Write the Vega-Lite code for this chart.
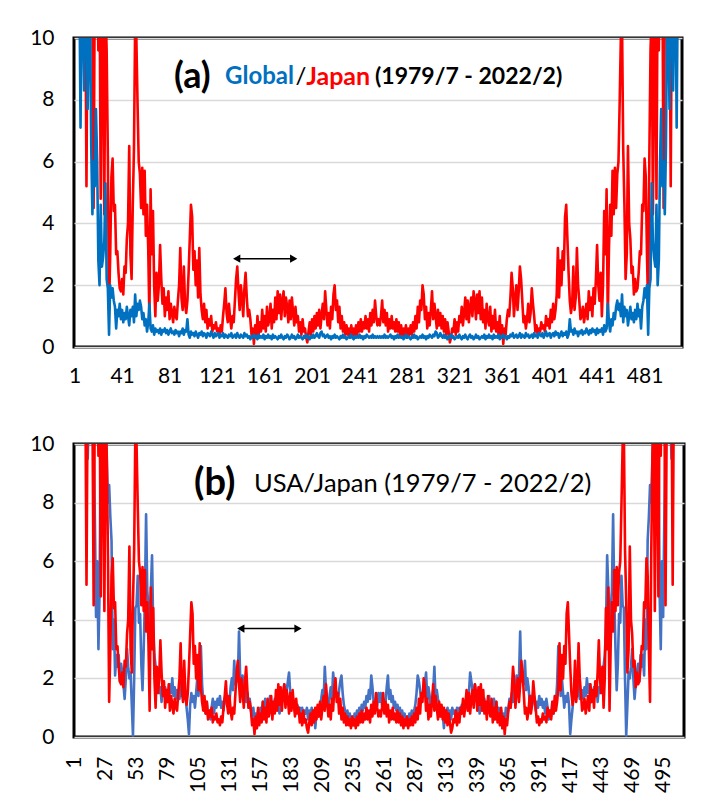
{
"$schema": "https://vega.github.io/schema/vega-lite/v6.json",
"padding": {"left": 28, "top": 25, "right": 5, "bottom": 5},
"background": "white",
"spacing": 97,
"bounds": "flush",
"config": {
  "view": {"stroke": "black", "strokeWidth": 3},
  "font": "Lato",
  "axis": {"labelFont": "Lato", "labelFontSize": 21, "labelColor": "black", "ticks": false, "domain": false, "title": null, "grid": false, "labelPadding": 20, "labelFlush": false},
  "axisX": {"labelOverlap": false},
  "axisY": {"grid": true, "gridColor": "#d9d9d9", "gridWidth": 1.5},
  "line": {"strokeWidth": 2.6, "strokeJoin": "round"}
},
"datasets": {"d": [
{"i":1,"g":20,"j":20,"u":20},{"i":2,"g":18,"j":18,"u":18},{"i":3,"g":16,"j":15,"u":16},{"i":4,"g":14,"j":14,"u":15},{"i":5,"g":12,"j":13,"u":14},
{"i":6,"g":7.1,"j":12,"u":13},{"i":7,"g":12,"j":14,"u":12},{"i":8,"g":11,"j":12,"u":12},{"i":9,"g":8.3,"j":11,"u":11},{"i":10,"g":11,"j":12,"u":11},
{"i":11,"g":12,"j":5.2,"u":10.5},{"i":12,"g":7.7,"j":12,"u":9.5},{"i":13,"g":10.5,"j":11,"u":11},{"i":14,"g":11,"j":12,"u":12},{"i":15,"g":6.5,"j":10.5,"u":10.5},
{"i":16,"g":4.3,"j":11,"u":11},{"i":17,"g":6,"j":4.5,"u":10},{"i":18,"g":5.2,"j":12,"u":7.5},{"i":19,"g":7.7,"j":11,"u":4.1},{"i":20,"g":6,"j":13,"u":6},
{"i":21,"g":2.8,"j":9.6,"u":3},{"i":22,"g":2,"j":12,"u":5},{"i":23,"g":4.6,"j":4.8,"u":11},{"i":24,"g":2.6,"j":12,"u":12},{"i":25,"g":2.9,"j":9.3,"u":10.5},
{"i":26,"g":3.4,"j":4.3,"u":11},{"i":27,"g":5.3,"j":11,"u":12},{"i":28,"g":2.2,"j":9.6,"u":9.5},{"i":29,"g":1.9,"j":6.2,"u":8},{"i":30,"g":0.4,"j":1.2,"u":8.6},
{"i":31,"g":2,"j":3,"u":7.5},{"i":32,"g":1.6,"j":5.5,"u":6.7},{"i":33,"g":1.9,"j":6.1,"u":3},{"i":34,"g":1.5,"j":4.4,"u":4},{"i":35,"g":1.3,"j":4.6,"u":2.1},
{"i":36,"g":0.6,"j":3,"u":2.8},{"i":37,"g":1.2,"j":3.1,"u":2.4},{"i":38,"g":1,"j":2.4,"u":2.8},{"i":39,"g":1.4,"j":1.9,"u":1.9},{"i":40,"g":0.9,"j":1.8,"u":2.5},
{"i":41,"g":1.2,"j":2.2,"u":2.2},{"i":42,"g":0.8,"j":1.7,"u":1.8},{"i":43,"g":1.1,"j":2.6,"u":1.3},{"i":44,"g":0.9,"j":2.4,"u":2},{"i":45,"g":1.3,"j":3.5,"u":3},
{"i":46,"g":1,"j":4,"u":2.4},{"i":47,"g":0.7,"j":6.5,"u":2},{"i":48,"g":1.2,"j":3,"u":2.2},{"i":49,"g":1,"j":2.2,"u":1.1},{"i":50,"g":1.3,"j":4.6,"u":0.05},
{"i":51,"g":0.8,"j":6.4,"u":2},{"i":52,"g":1.7,"j":10.5,"u":4.4},{"i":53,"g":1,"j":10,"u":4.5},{"i":54,"g":1.4,"j":7.9,"u":5.5},{"i":55,"g":1.2,"j":6,"u":3.9},
{"i":56,"g":1.5,"j":5.6,"u":4.2},{"i":57,"g":1.3,"j":4.5,"u":2.5},{"i":58,"g":0.9,"j":5.8,"u":1.6},{"i":59,"g":1.1,"j":4.3,"u":3},{"i":60,"g":0.7,"j":5.7,"u":4.7},
{"i":61,"g":0.9,"j":3.6,"u":7.6},{"i":62,"g":0.5,"j":4.6,"u":5},{"i":63,"g":0.8,"j":3.2,"u":4.4},{"i":64,"g":1.4,"j":0.9,"u":3.4},{"i":65,"g":0.6,"j":5.1,"u":5},
{"i":66,"g":0.5,"j":3,"u":6.2},{"i":67,"g":0.7,"j":4.4,"u":3.7},{"i":68,"g":0.4,"j":2,"u":2.8},{"i":69,"g":0.6,"j":1,"u":2.4},{"i":70,"g":0.5,"j":2.4,"u":1.8},
{"i":71,"g":0.55,"j":1.5,"u":2.1},{"i":72,"g":0.45,"j":2,"u":1.5},{"i":73,"g":0.6,"j":3.3,"u":1.7},{"i":74,"g":0.4,"j":2.2,"u":1.2},{"i":75,"g":0.55,"j":1.4,"u":1.9},
{"i":76,"g":0.5,"j":1.9,"u":1.4},{"i":77,"g":0.6,"j":1,"u":1.7},{"i":78,"g":0.45,"j":1.6,"u":1.5},{"i":79,"g":0.55,"j":1.2,"u":1.2},{"i":80,"g":0.4,"j":1.8,"u":1.3},
{"i":81,"g":0.5,"j":0.9,"u":1.8},{"i":82,"g":0.6,"j":1.4,"u":1.5},{"i":83,"g":0.45,"j":1.1,"u":2},{"i":84,"g":0.5,"j":0.8,"u":1.4},{"i":85,"g":0.4,"j":1.3,"u":1.7},
{"i":86,"g":0.55,"j":1,"u":1.3},{"i":87,"g":0.45,"j":0.9,"u":1.6},{"i":88,"g":0.5,"j":1.5,"u":1.5},{"i":89,"g":0.35,"j":2,"u":1.3},{"i":90,"g":0.5,"j":3.2,"u":1.8},
{"i":91,"g":0.45,"j":1.6,"u":1.4},{"i":92,"g":0.6,"j":1.2,"u":1.6},{"i":93,"g":0.4,"j":2.6,"u":1.3},{"i":94,"g":0.55,"j":1.4,"u":1.5},{"i":95,"g":0.5,"j":1.1,"u":1},
{"i":96,"g":0.9,"j":1.5,"u":0.6},{"i":97,"g":0.4,"j":2.4,"u":0.1},{"i":98,"g":0.3,"j":3.5,"u":1.1},{"i":99,"g":0.5,"j":4.6,"u":1.5},{"i":100,"g":0.4,"j":4.2,"u":1.2},
{"i":101,"g":0.45,"j":2.5,"u":1.4},{"i":102,"g":0.35,"j":3.1,"u":1},{"i":103,"g":0.5,"j":2,"u":1.5},{"i":104,"g":0.4,"j":2.8,"u":2},{"i":105,"g":0.3,"j":1.6,"u":1.4},
{"i":106,"g":0.45,"j":3.2,"u":2.2},{"i":107,"g":0.4,"j":1.7,"u":3.1},{"i":108,"g":0.5,"j":1.2,"u":1.8},{"i":109,"g":0.35,"j":0.9,"u":1.2},{"i":110,"g":0.45,"j":1.4,"u":1},
{"i":111,"g":0.4,"j":0.8,"u":0.8},{"i":112,"g":0.3,"j":1.2,"u":1.2},{"i":113,"g":0.45,"j":0.6,"u":0.7},{"i":114,"g":0.4,"j":0.9,"u":0.9},{"i":115,"g":0.35,"j":0.7,"u":0.6},
{"i":116,"g":0.5,"j":1,"u":1},{"i":117,"g":0.4,"j":0.5,"u":1.3},{"i":118,"g":0.3,"j":0.7,"u":0.8},{"i":119,"g":0.45,"j":0.6,"u":1.2},{"i":120,"g":0.35,"j":0.8,"u":1},
{"i":121,"g":0.4,"j":0.5,"u":1.3},{"i":122,"g":0.45,"j":0.6,"u":1.1},{"i":123,"g":0.3,"j":0.4,"u":1.4},{"i":124,"g":0.4,"j":0.7,"u":1},{"i":125,"g":0.35,"j":0.5,"u":1.2},
{"i":126,"g":0.45,"j":1,"u":0.9},{"i":127,"g":0.3,"j":1.4,"u":1.3},{"i":128,"g":0.4,"j":1.9,"u":1.5},{"i":129,"g":0.35,"j":1.1,"u":1.1},{"i":130,"g":0.3,"j":0.8,"u":1.4},
{"i":131,"g":0.4,"j":1.4,"u":1.2},{"i":132,"g":0.35,"j":0.9,"u":1.7},{"i":133,"g":0.45,"j":0.6,"u":2},{"i":134,"g":0.3,"j":1,"u":1.6},{"i":135,"g":0.35,"j":0.8,"u":2.6},
{"i":136,"g":0.4,"j":1.5,"u":1.8},{"i":137,"g":0.3,"j":2.2,"u":2.2},{"i":138,"g":0.45,"j":2.6,"u":1.9},{"i":139,"g":0.35,"j":1.8,"u":3.6},{"i":140,"g":0.3,"j":1.2,"u":2},
{"i":141,"g":0.4,"j":2,"u":1.5},{"i":142,"g":0.35,"j":1.6,"u":2.1},{"i":143,"g":0.3,"j":1,"u":1.4},{"i":144,"g":0.45,"j":1.9,"u":1.8},{"i":145,"g":0.35,"j":2.4,"u":1.2},
{"i":146,"g":0.4,"j":1.6,"u":1.5},{"i":147,"g":0.3,"j":1,"u":1},{"i":148,"g":0.35,"j":1.2,"u":1.3},{"i":149,"g":0.25,"j":0.9,"u":0.9},{"i":150,"g":0.35,"j":0.4,"u":0.7},
{"i":151,"g":0.3,"j":0.6,"u":1},{"i":152,"g":0.4,"j":0.1,"u":0.5},{"i":153,"g":0.3,"j":0.7,"u":0.8},{"i":154,"g":0.35,"j":0.3,"u":0.3},{"i":155,"g":0.25,"j":1,"u":0.9},
{"i":156,"g":0.4,"j":0.4,"u":0.6},{"i":157,"g":0.3,"j":0.8,"u":1},{"i":158,"g":0.35,"j":0.5,"u":0.8},{"i":159,"g":0.3,"j":1.2,"u":1.2},{"i":160,"g":0.4,"j":0.6,"u":1},
{"i":161,"g":0.25,"j":1,"u":1.3},{"i":162,"g":0.35,"j":0.5,"u":0.9},{"i":163,"g":0.3,"j":1.3,"u":1.1},{"i":164,"g":0.4,"j":0.7,"u":0.8},{"i":165,"g":0.3,"j":0.9,"u":1.4},
{"i":166,"g":0.35,"j":1.4,"u":1},{"i":167,"g":0.25,"j":0.6,"u":1.2},{"i":168,"g":0.4,"j":1.2,"u":0.9},{"i":169,"g":0.3,"j":0.8,"u":1.3},{"i":170,"g":0.35,"j":1.6,"u":1},
{"i":171,"g":0.3,"j":0.9,"u":1.4},{"i":172,"g":0.25,"j":1.8,"u":1.1},{"i":173,"g":0.35,"j":1.1,"u":0.8},{"i":174,"g":0.3,"j":1.7,"u":1.2},{"i":175,"g":0.4,"j":0.9,"u":1.5},
{"i":176,"g":0.3,"j":1.5,"u":1.3},{"i":177,"g":0.25,"j":1.8,"u":1.8},{"i":178,"g":0.35,"j":1,"u":1.4},{"i":179,"g":0.3,"j":1.6,"u":1.6},{"i":180,"g":0.4,"j":1.3,"u":1.9},
{"i":181,"g":0.35,"j":0.8,"u":2.2},{"i":182,"g":0.25,"j":1.5,"u":1.5},{"i":183,"g":0.3,"j":0.9,"u":1.3},{"i":184,"g":0.4,"j":1.6,"u":1.4},{"i":185,"g":0.3,"j":1.1,"u":1},
{"i":186,"g":0.35,"j":0.7,"u":1.2},{"i":187,"g":0.25,"j":1.3,"u":0.9},{"i":188,"g":0.3,"j":0.8,"u":1.1},{"i":189,"g":0.4,"j":1,"u":0.9},{"i":190,"g":0.3,"j":0.5,"u":1},
{"i":191,"g":0.35,"j":0.8,"u":0.8},{"i":192,"g":0.3,"j":0.4,"u":1},{"i":193,"g":0.25,"j":0.9,"u":0.7},{"i":194,"g":0.35,"j":0.5,"u":0.9},{"i":195,"g":0.3,"j":0.6,"u":0.8},
{"i":196,"g":0.4,"j":0.3,"u":1},{"i":197,"g":0.3,"j":0.15,"u":0.6},{"i":198,"g":0.35,"j":0.5,"u":0.9},{"i":199,"g":0.25,"j":0.8,"u":0.7},{"i":200,"g":0.35,"j":0.4,"u":1},
{"i":201,"g":0.3,"j":0.9,"u":0.8},{"i":202,"g":0.4,"j":0.5,"u":0.9},{"i":203,"g":0.3,"j":1,"u":0.3},{"i":204,"g":0.35,"j":0.6,"u":0.8},{"i":205,"g":0.45,"j":1.1,"u":1},
{"i":206,"g":0.35,"j":0.7,"u":0.7},{"i":207,"g":0.3,"j":1.2,"u":1.1},{"i":208,"g":0.45,"j":0.6,"u":1.3},{"i":209,"g":0.5,"j":1,"u":1.6},{"i":210,"g":0.35,"j":1.4,"u":1.2},
{"i":211,"g":0.4,"j":0.9,"u":2.4},{"i":212,"g":0.3,"j":1.8,"u":1.6},{"i":213,"g":0.35,"j":1.2,"u":1.2},{"i":214,"g":0.4,"j":0.7,"u":1},{"i":215,"g":0.3,"j":1.1,"u":1.4},
{"i":216,"g":0.35,"j":0.6,"u":1.7},{"i":217,"g":0.25,"j":1.3,"u":1.3},{"i":218,"g":0.35,"j":0.9,"u":2.2},{"i":219,"g":0.3,"j":1.7,"u":1.8},{"i":220,"g":0.4,"j":2,"u":1.4},
{"i":221,"g":0.3,"j":1.2,"u":1.5},{"i":222,"g":0.35,"j":1.5,"u":1.2},{"i":223,"g":0.3,"j":0.8,"u":1.6},{"i":224,"g":0.25,"j":1.3,"u":1.9},{"i":225,"g":0.35,"j":0.6,"u":2.1},
{"i":226,"g":0.3,"j":1,"u":1.5},{"i":227,"g":0.4,"j":0.5,"u":1.1},{"i":228,"g":0.3,"j":0.8,"u":0.9},{"i":229,"g":0.35,"j":0.4,"u":0.7},{"i":230,"g":0.25,"j":0.7,"u":0.9},
{"i":231,"g":0.3,"j":0.4,"u":0.6},{"i":232,"g":0.35,"j":0.6,"u":0.8},{"i":233,"g":0.3,"j":0.3,"u":0.5},{"i":234,"g":0.4,"j":0.7,"u":0.7},{"i":235,"g":0.3,"j":0.4,"u":0.4},
{"i":236,"g":0.25,"j":0.6,"u":0.8},{"i":237,"g":0.35,"j":0.3,"u":0.6},{"i":238,"g":0.3,"j":0.7,"u":0.9},{"i":239,"g":0.35,"j":0.4,"u":0.7},{"i":240,"g":0.3,"j":0.8,"u":1},
{"i":241,"g":0.4,"j":0.5,"u":0.8},{"i":242,"g":0.3,"j":0.9,"u":1.1},{"i":243,"g":0.35,"j":0.5,"u":0.9},{"i":244,"g":0.25,"j":0.8,"u":1.2},{"i":245,"g":0.35,"j":0.6,"u":1},
{"i":246,"g":0.3,"j":1,"u":1.4},{"i":247,"g":0.4,"j":0.6,"u":1.2},{"i":248,"g":0.35,"j":0.9,"u":1.6},{"i":249,"g":0.3,"j":0.5,"u":1.3},{"i":250,"g":0.35,"j":1.1,"u":2.1},
{"i":251,"g":0.3,"j":0.7,"u":1.7},{"i":252,"g":0.4,"j":1.2,"u":1.2},{"i":253,"g":0.3,"j":0.8,"u":1},{"i":254,"g":0.35,"j":1.5,"u":1.3},{"i":255,"g":0.3,"j":1,"u":1.1},
{"i":256,"g":0.35,"j":0.7,"u":1.5},{"i":257,"g":0.3,"j":0.9,"u":1.2},
{"i":258,"g":0.35,"j":0.7,"u":1.5},{"i":259,"g":0.3,"j":1,"u":1.1},{"i":260,"g":0.35,"j":1.5,"u":1.3},{"i":261,"g":0.3,"j":0.8,"u":1},{"i":262,"g":0.4,"j":1.2,"u":1.2},
{"i":263,"g":0.3,"j":0.7,"u":1.7},{"i":264,"g":0.35,"j":1.1,"u":2.1},{"i":265,"g":0.3,"j":0.5,"u":1.3},{"i":266,"g":0.35,"j":0.9,"u":1.6},{"i":267,"g":0.4,"j":0.6,"u":1.2},
{"i":268,"g":0.3,"j":1,"u":1.4},{"i":269,"g":0.35,"j":0.6,"u":1},{"i":270,"g":0.25,"j":0.8,"u":1.2},{"i":271,"g":0.35,"j":0.5,"u":0.9},{"i":272,"g":0.3,"j":0.9,"u":1.1},
{"i":273,"g":0.4,"j":0.5,"u":0.8},{"i":274,"g":0.3,"j":0.8,"u":1},{"i":275,"g":0.35,"j":0.4,"u":0.7},{"i":276,"g":0.3,"j":0.7,"u":0.9},{"i":277,"g":0.35,"j":0.3,"u":0.6},
{"i":278,"g":0.25,"j":0.6,"u":0.8},{"i":279,"g":0.3,"j":0.4,"u":0.4},{"i":280,"g":0.4,"j":0.7,"u":0.7},{"i":281,"g":0.3,"j":0.3,"u":0.5},{"i":282,"g":0.35,"j":0.6,"u":0.8},
{"i":283,"g":0.3,"j":0.4,"u":0.6},{"i":284,"g":0.25,"j":0.7,"u":0.9},{"i":285,"g":0.35,"j":0.4,"u":0.7},{"i":286,"g":0.3,"j":0.8,"u":0.9},{"i":287,"g":0.4,"j":0.5,"u":1.1},
{"i":288,"g":0.3,"j":1,"u":1.5},{"i":289,"g":0.35,"j":0.6,"u":2.1},{"i":290,"g":0.25,"j":1.3,"u":1.9},{"i":291,"g":0.3,"j":0.8,"u":1.6},{"i":292,"g":0.35,"j":1.5,"u":1.2},
{"i":293,"g":0.3,"j":1.2,"u":1.5},{"i":294,"g":0.4,"j":2,"u":1.4},{"i":295,"g":0.3,"j":1.7,"u":1.8},{"i":296,"g":0.35,"j":0.9,"u":2.2},{"i":297,"g":0.25,"j":1.3,"u":1.3},
{"i":298,"g":0.35,"j":0.6,"u":1.7},{"i":299,"g":0.3,"j":1.1,"u":1.4},{"i":300,"g":0.4,"j":0.7,"u":1},{"i":301,"g":0.35,"j":1.2,"u":1.2},{"i":302,"g":0.3,"j":1.8,"u":1.6},
{"i":303,"g":0.4,"j":0.9,"u":2.4},{"i":304,"g":0.35,"j":1.4,"u":1.2},{"i":305,"g":0.5,"j":1,"u":1.6},{"i":306,"g":0.45,"j":0.6,"u":1.3},{"i":307,"g":0.3,"j":1.2,"u":1.1},
{"i":308,"g":0.35,"j":0.7,"u":0.7},{"i":309,"g":0.45,"j":1.1,"u":1},{"i":310,"g":0.35,"j":0.6,"u":0.8},{"i":311,"g":0.3,"j":1,"u":0.3},{"i":312,"g":0.4,"j":0.5,"u":0.9},
{"i":313,"g":0.3,"j":0.9,"u":0.8},{"i":314,"g":0.35,"j":0.4,"u":1},{"i":315,"g":0.25,"j":0.8,"u":0.7},{"i":316,"g":0.35,"j":0.5,"u":0.9},{"i":317,"g":0.3,"j":0.15,"u":0.6},
{"i":318,"g":0.4,"j":0.3,"u":1},{"i":319,"g":0.3,"j":0.6,"u":0.8},{"i":320,"g":0.35,"j":0.5,"u":0.9},{"i":321,"g":0.25,"j":0.9,"u":0.7},{"i":322,"g":0.3,"j":0.4,"u":1},
{"i":323,"g":0.35,"j":0.8,"u":0.8},{"i":324,"g":0.3,"j":0.5,"u":1},{"i":325,"g":0.4,"j":1,"u":0.9},{"i":326,"g":0.3,"j":0.8,"u":1.1},{"i":327,"g":0.25,"j":1.3,"u":0.9},
{"i":328,"g":0.35,"j":0.7,"u":1.2},{"i":329,"g":0.3,"j":1.1,"u":1},{"i":330,"g":0.4,"j":1.6,"u":1.4},{"i":331,"g":0.3,"j":0.9,"u":1.3},{"i":332,"g":0.25,"j":1.5,"u":1.5},
{"i":333,"g":0.35,"j":0.8,"u":2.2},{"i":334,"g":0.4,"j":1.3,"u":1.9},{"i":335,"g":0.3,"j":1.6,"u":1.6},{"i":336,"g":0.35,"j":1,"u":1.4},{"i":337,"g":0.25,"j":1.8,"u":1.8},
{"i":338,"g":0.3,"j":1.5,"u":1.3},{"i":339,"g":0.4,"j":0.9,"u":1.5},{"i":340,"g":0.3,"j":1.7,"u":1.2},{"i":341,"g":0.35,"j":1.1,"u":0.8},{"i":342,"g":0.25,"j":1.8,"u":1.1},
{"i":343,"g":0.3,"j":0.9,"u":1.4},{"i":344,"g":0.35,"j":1.6,"u":1},{"i":345,"g":0.3,"j":0.8,"u":1.3},{"i":346,"g":0.4,"j":1.2,"u":0.9},{"i":347,"g":0.25,"j":0.6,"u":1.2},
{"i":348,"g":0.35,"j":1.4,"u":1},{"i":349,"g":0.3,"j":0.9,"u":1.4},{"i":350,"g":0.4,"j":0.7,"u":0.8},{"i":351,"g":0.3,"j":1.3,"u":1.1},{"i":352,"g":0.35,"j":0.5,"u":0.9},
{"i":353,"g":0.25,"j":1,"u":1.3},{"i":354,"g":0.4,"j":0.6,"u":1},{"i":355,"g":0.3,"j":1.2,"u":1.2},{"i":356,"g":0.35,"j":0.5,"u":0.8},{"i":357,"g":0.3,"j":0.8,"u":1},
{"i":358,"g":0.4,"j":0.4,"u":0.6},{"i":359,"g":0.25,"j":1,"u":0.9},{"i":360,"g":0.35,"j":0.3,"u":0.3},{"i":361,"g":0.3,"j":0.7,"u":0.8},{"i":362,"g":0.4,"j":0.1,"u":0.5},
{"i":363,"g":0.3,"j":0.6,"u":1},{"i":364,"g":0.35,"j":0.4,"u":0.7},{"i":365,"g":0.25,"j":0.9,"u":0.9},{"i":366,"g":0.35,"j":1.2,"u":1.3},{"i":367,"g":0.3,"j":1,"u":1},
{"i":368,"g":0.4,"j":1.6,"u":1.5},{"i":369,"g":0.35,"j":2.4,"u":1.2},{"i":370,"g":0.45,"j":1.9,"u":1.8},{"i":371,"g":0.3,"j":1,"u":1.4},{"i":372,"g":0.35,"j":1.6,"u":2.1},
{"i":373,"g":0.4,"j":2,"u":1.5},{"i":374,"g":0.3,"j":1.2,"u":2},{"i":375,"g":0.35,"j":1.8,"u":3.6},{"i":376,"g":0.45,"j":2.6,"u":1.9},{"i":377,"g":0.3,"j":2.2,"u":2.2},
{"i":378,"g":0.4,"j":1.5,"u":1.8},{"i":379,"g":0.35,"j":0.8,"u":2.6},{"i":380,"g":0.3,"j":1,"u":1.6},{"i":381,"g":0.45,"j":0.6,"u":2},{"i":382,"g":0.35,"j":0.9,"u":1.7},
{"i":383,"g":0.4,"j":1.4,"u":1.2},{"i":384,"g":0.3,"j":0.8,"u":1.4},{"i":385,"g":0.35,"j":1.1,"u":1.1},{"i":386,"g":0.4,"j":1.9,"u":1.5},{"i":387,"g":0.3,"j":1.4,"u":1.3},
{"i":388,"g":0.45,"j":1,"u":0.9},{"i":389,"g":0.35,"j":0.5,"u":1.2},{"i":390,"g":0.4,"j":0.7,"u":1},{"i":391,"g":0.3,"j":0.4,"u":1.4},{"i":392,"g":0.45,"j":0.6,"u":1.1},
{"i":393,"g":0.4,"j":0.5,"u":1.3},{"i":394,"g":0.35,"j":0.8,"u":1},{"i":395,"g":0.45,"j":0.6,"u":1.2},{"i":396,"g":0.3,"j":0.7,"u":0.8},{"i":397,"g":0.4,"j":0.5,"u":1.3},
{"i":398,"g":0.5,"j":1,"u":1},{"i":399,"g":0.35,"j":0.7,"u":0.6},{"i":400,"g":0.4,"j":0.9,"u":0.9},{"i":401,"g":0.45,"j":0.6,"u":0.7},{"i":402,"g":0.3,"j":1.2,"u":1.2},
{"i":403,"g":0.4,"j":0.8,"u":0.8},{"i":404,"g":0.45,"j":1.4,"u":1},{"i":405,"g":0.35,"j":0.9,"u":1.2},{"i":406,"g":0.5,"j":1.2,"u":1.8},{"i":407,"g":0.4,"j":1.7,"u":3.1},
{"i":408,"g":0.45,"j":3.2,"u":2.2},{"i":409,"g":0.3,"j":1.6,"u":1.4},{"i":410,"g":0.4,"j":2.8,"u":2},{"i":411,"g":0.5,"j":2,"u":1.5},{"i":412,"g":0.35,"j":3.1,"u":1},
{"i":413,"g":0.45,"j":2.5,"u":1.4},{"i":414,"g":0.4,"j":4.2,"u":1.2},{"i":415,"g":0.5,"j":4.6,"u":1.5},{"i":416,"g":0.3,"j":3.5,"u":1.1},{"i":417,"g":0.4,"j":2.4,"u":0.1},
{"i":418,"g":0.9,"j":1.5,"u":0.6},{"i":419,"g":0.5,"j":1.1,"u":1},{"i":420,"g":0.55,"j":1.4,"u":1.5},{"i":421,"g":0.4,"j":2.6,"u":1.3},{"i":422,"g":0.6,"j":1.2,"u":1.6},
{"i":423,"g":0.45,"j":1.6,"u":1.4},{"i":424,"g":0.5,"j":3.2,"u":1.8},{"i":425,"g":0.35,"j":2,"u":1.3},{"i":426,"g":0.5,"j":1.5,"u":1.5},{"i":427,"g":0.45,"j":0.9,"u":1.6},
{"i":428,"g":0.55,"j":1,"u":1.3},{"i":429,"g":0.4,"j":1.3,"u":1.7},{"i":430,"g":0.5,"j":0.8,"u":1.4},{"i":431,"g":0.45,"j":1.1,"u":2},{"i":432,"g":0.6,"j":1.4,"u":1.5},
{"i":433,"g":0.5,"j":0.9,"u":1.8},{"i":434,"g":0.4,"j":1.8,"u":1.3},{"i":435,"g":0.55,"j":1.2,"u":1.2},{"i":436,"g":0.45,"j":1.6,"u":1.5},{"i":437,"g":0.6,"j":1,"u":1.7},
{"i":438,"g":0.5,"j":1.9,"u":1.4},{"i":439,"g":0.55,"j":1.4,"u":1.9},{"i":440,"g":0.4,"j":2.2,"u":1.2},{"i":441,"g":0.6,"j":3.3,"u":1.7},{"i":442,"g":0.45,"j":2,"u":1.5},
{"i":443,"g":0.55,"j":1.5,"u":2.1},{"i":444,"g":0.5,"j":2.4,"u":1.8},{"i":445,"g":0.6,"j":1,"u":2.4},{"i":446,"g":0.4,"j":2,"u":2.8},{"i":447,"g":0.7,"j":4.4,"u":3.7},
{"i":448,"g":0.5,"j":3,"u":6.2},{"i":449,"g":0.6,"j":5.1,"u":5},{"i":450,"g":1.4,"j":0.9,"u":3.4},{"i":451,"g":0.8,"j":3.2,"u":4.4},{"i":452,"g":0.5,"j":4.6,"u":5},
{"i":453,"g":0.9,"j":3.6,"u":7.6},{"i":454,"g":0.7,"j":5.7,"u":4.7},{"i":455,"g":1.1,"j":4.3,"u":3},{"i":456,"g":0.9,"j":5.8,"u":1.6},{"i":457,"g":1.3,"j":4.5,"u":2.5},
{"i":458,"g":1.5,"j":5.6,"u":4.2},{"i":459,"g":1.2,"j":6,"u":3.9},{"i":460,"g":1.4,"j":7.9,"u":5.5},{"i":461,"g":1,"j":10,"u":4.5},{"i":462,"g":1.7,"j":10.5,"u":4.4},
{"i":463,"g":0.8,"j":6.4,"u":2},{"i":464,"g":1.3,"j":4.6,"u":0.05},{"i":465,"g":1,"j":2.2,"u":1.1},{"i":466,"g":1.2,"j":3,"u":2.2},{"i":467,"g":0.7,"j":6.5,"u":2},
{"i":468,"g":1,"j":4,"u":2.4},{"i":469,"g":1.3,"j":3.5,"u":3},{"i":470,"g":0.9,"j":2.4,"u":2},{"i":471,"g":1.1,"j":2.6,"u":1.3},{"i":472,"g":0.8,"j":1.7,"u":1.8},
{"i":473,"g":1.2,"j":2.2,"u":2.2},{"i":474,"g":0.9,"j":1.8,"u":2.5},{"i":475,"g":1.4,"j":1.9,"u":1.9},{"i":476,"g":1,"j":2.4,"u":2.8},{"i":477,"g":1.2,"j":3.1,"u":2.4},
{"i":478,"g":0.6,"j":3,"u":2.8},{"i":479,"g":1.3,"j":4.6,"u":2.1},{"i":480,"g":1.5,"j":4.4,"u":4},{"i":481,"g":1.9,"j":6.1,"u":3},{"i":482,"g":1.6,"j":5.5,"u":6.7},
{"i":483,"g":2,"j":3,"u":7.5},{"i":484,"g":0.4,"j":1.2,"u":8.6},{"i":485,"g":1.9,"j":6.2,"u":8},{"i":486,"g":2.2,"j":9.6,"u":9.5},{"i":487,"g":5.3,"j":11,"u":12},
{"i":488,"g":3.4,"j":4.3,"u":11},{"i":489,"g":2.9,"j":9.3,"u":10.5},{"i":490,"g":2.6,"j":12,"u":12},{"i":491,"g":4.6,"j":4.8,"u":11},{"i":492,"g":2,"j":12,"u":5},
{"i":493,"g":2.8,"j":9.6,"u":3},{"i":494,"g":6,"j":13,"u":6},{"i":495,"g":7.7,"j":11,"u":4.1},{"i":496,"g":5.2,"j":12,"u":7.5},{"i":497,"g":6,"j":4.5,"u":10},
{"i":498,"g":4.3,"j":11,"u":11},{"i":499,"g":6.5,"j":10.5,"u":10.5},{"i":500,"g":11,"j":12,"u":12},{"i":501,"g":10.5,"j":11,"u":11},{"i":502,"g":7.7,"j":12,"u":9.5},
{"i":503,"g":12,"j":5.2,"u":10.5},{"i":504,"g":11,"j":12,"u":11},{"i":505,"g":8.3,"j":11,"u":11},{"i":506,"g":11,"j":12,"u":12},{"i":507,"g":12,"j":14,"u":12},
{"i":508,"g":7.1,"j":12,"u":13},{"i":509,"g":12,"j":13,"u":14},{"i":510,"g":14,"j":14,"u":15},{"i":511,"g":16,"j":15,"u":16},{"i":512,"g":18,"j":18,"u":18}
]},
"vconcat": [
 {
  "width": 608, "height": 309,
  "layer": [
   {"data": {"name": "d"}, "mark": {"type": "line", "color": "#FF0000", "clip": true},
    "encoding": {
     "x": {"field": "i", "type": "quantitative", "scale": {"domain": [0.5, 512.5], "nice": false, "zero": false}, "axis": {"values": [1,41,81,121,161,201,241,281,321,361,401,441,481], "tickCount": 40, "labelPadding": 18, "labelOverlap": false}},
     "y": {"field": "j", "type": "quantitative", "scale": {"domain": [0, 10], "nice": false}, "axis": {"values": [0,2,4,6,8,10]}}}},
   {"data": {"name": "d"}, "mark": {"type": "line", "color": "#0070C0", "clip": true},
    "encoding": {"x": {"field": "i", "type": "quantitative"}, "y": {"field": "g", "type": "quantitative"}}},
   {"data": {"values": [{}]}, "mark": {"type": "rule", "color": "black", "strokeWidth": 1.5},
    "encoding": {"x": {"datum": 137}, "x2": {"datum": 186}, "y": {"datum": 2.86}}},
   {"data": {"values": [{}]}, "mark": {"type": "point", "shape": "triangle-left", "filled": true, "color": "black", "size": 70, "opacity": 1},
    "encoding": {"x": {"datum": 137.5}, "y": {"datum": 2.86}}},
   {"data": {"values": [{}]}, "mark": {"type": "point", "shape": "triangle-right", "filled": true, "color": "black", "size": 70, "opacity": 1},
    "encoding": {"x": {"datum": 185.5}, "y": {"datum": 2.86}}},
   {"data": {"values": [{}]}, "mark": {"type": "text", "text": "(a)", "font": "Lato", "fontSize": 36, "fontWeight": "bold", "align": "left", "baseline": "middle", "color": "black"},
    "encoding": {"x": {"datum": 84.7}, "y": {"datum": 8.74}}},
   {"data": {"values": [{}]}, "mark": {"type": "text", "text": "Global", "font": "Lato", "fontSize": 24, "fontWeight": "bold", "align": "left", "baseline": "middle", "color": "#0070C0"},
    "encoding": {"x": {"datum": 127.7}, "y": {"datum": 8.74}}},
   {"data": {"values": [{}]}, "mark": {"type": "text", "text": "/", "font": "Lato", "fontSize": 24, "align": "left", "baseline": "middle", "color": "black"},
    "encoding": {"x": {"datum": 187}, "y": {"datum": 8.74}}},
   {"data": {"values": [{}]}, "mark": {"type": "text", "text": "Japan", "font": "Lato", "fontSize": 25, "fontWeight": "bold", "align": "left", "baseline": "middle", "color": "#FF0000"},
    "encoding": {"x": {"datum": 196}, "y": {"datum": 8.74}}},
   {"data": {"values": [{}]}, "mark": {"type": "text", "text": "(1979/7 - 2022/2)", "font": "Lato", "fontSize": 23, "fontWeight": "bold", "align": "left", "baseline": "middle", "color": "black"},
    "encoding": {"x": {"datum": 254}, "y": {"datum": 8.74}}}
  ]
 },
 {
  "width": 610, "height": 293,
  "layer": [
   {"data": {"name": "d"}, "mark": {"type": "line", "color": "#4472C4", "clip": true},
    "encoding": {
     "x": {"field": "i", "type": "quantitative", "scale": {"domain": [0.5, 512.5], "nice": false, "zero": false}, "axis": {"values": [1,27,53,79,105,131,157,183,209,235,261,287,313,339,365,391,417,443,469,495], "tickCount": 40, "labelAngle": 270, "labelAlign": "right", "labelBaseline": "middle", "labelPadding": 19, "labelOverlap": false}},
     "y": {"field": "u", "type": "quantitative", "scale": {"domain": [0, 10], "nice": false}, "axis": {"values": [0,2,4,6,8,10]}}}},
   {"data": {"name": "d"}, "mark": {"type": "line", "color": "#FF0000", "clip": true},
    "encoding": {"x": {"field": "i", "type": "quantitative"}, "y": {"field": "j", "type": "quantitative"}}},
   {"data": {"values": [{}]}, "mark": {"type": "rule", "color": "black", "strokeWidth": 1.5},
    "encoding": {"x": {"datum": 140}, "x2": {"datum": 189}, "y": {"datum": 3.7}}},
   {"data": {"values": [{}]}, "mark": {"type": "point", "shape": "triangle-left", "filled": true, "color": "black", "size": 70, "opacity": 1},
    "encoding": {"x": {"datum": 140.5}, "y": {"datum": 3.7}}},
   {"data": {"values": [{}]}, "mark": {"type": "point", "shape": "triangle-right", "filled": true, "color": "black", "size": 70, "opacity": 1},
    "encoding": {"x": {"datum": 188.5}, "y": {"datum": 3.7}}},
   {"data": {"values": [{}]}, "mark": {"type": "text", "text": "(b)", "font": "Lato", "fontSize": 38, "fontWeight": "bold", "align": "left", "baseline": "middle", "color": "black"},
    "encoding": {"x": {"datum": 101.3}, "y": {"datum": 8.63}}},
   {"data": {"values": [{}]}, "mark": {"type": "text", "text": "USA/Japan (1979/7 - 2022/2)", "font": "Lato", "fontSize": 25.5, "align": "left", "baseline": "middle", "color": "black"},
    "encoding": {"x": {"datum": 151.6}, "y": {"datum": 8.63}}}
  ]
 }
]
}
